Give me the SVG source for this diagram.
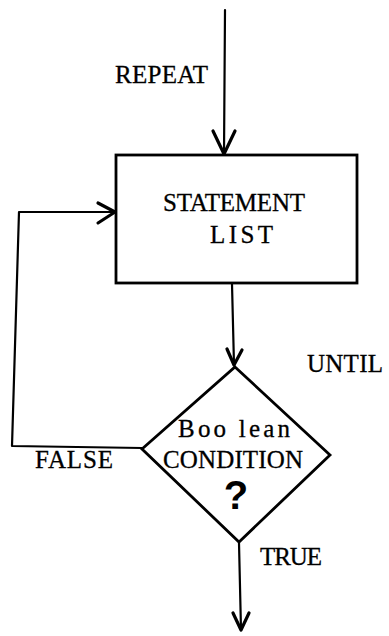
<svg xmlns="http://www.w3.org/2000/svg" width="389" height="636" viewBox="0 0 389 636">
<style>
.t{font-family:"Liberation Serif","Times New Roman",serif;font-size:25px;fill:#000;stroke:#000;stroke-width:0.3}
.q{font-family:"Liberation Sans",Arial,sans-serif;font-size:40px;font-weight:bold;fill:#000}
.ln{fill:none;stroke:#000;stroke-width:2.2;stroke-linecap:round;stroke-linejoin:round}
.ah{fill:none;stroke:#000;stroke-width:3.2;stroke-linecap:round;stroke-linejoin:round}
.box{fill:#fff;stroke:#000;stroke-width:2.8}
</style>
<rect width="389" height="636" fill="#fff"/>
<g id="connectors">
<path class="ln" d="M225,10 L224,154"/>
<path class="ah" d="M213,131 L224,154 L235,131"/>
<path class="ln" d="M232,284 L234,365"/>
<path class="ah" d="M227,349 L234,365 L242,350"/>
<path class="ln" d="M142,448 L12,446 L19,212 L115,212"/>
<path class="ah" d="M98,203 L115,212 L98,223"/>
<path class="ln" d="M239,543 L241,630"/>
<path class="ah" d="M233,613 L241,630 L249,613"/>
</g>
<g id="label-repeat"><text class="t" x="115" y="83" textLength="93" lengthAdjust="spacing">REPEAT</text></g>
<g id="statement-list">
<rect class="box" x="116" y="155" width="241" height="128"/>
<text class="t" x="163" y="211" textLength="142" lengthAdjust="spacing">STATEMENT</text>
<text class="t" x="210" y="243" textLength="63" lengthAdjust="spacing">LIST</text>
</g>
<g id="label-until"><text class="t" x="307" y="372" textLength="76" lengthAdjust="spacing">UNTIL</text></g>
<g id="condition">
<path class="box" d="M235,367 L330,455 L239,542 L142,449 Z"/>
<text class="t" x="178" y="437" textLength="112" lengthAdjust="spacing">Boo lean</text>
<text class="t" x="163" y="468" textLength="140" lengthAdjust="spacing">CONDITION</text>
<text class="q" x="236" y="509" text-anchor="middle">?</text>
</g>
<g id="label-false"><text class="t" x="35" y="468" textLength="78" lengthAdjust="spacing">FALSE</text></g>
<g id="label-true"><text class="t" x="260" y="565" textLength="62" lengthAdjust="spacing">TRUE</text></g>
</svg>
